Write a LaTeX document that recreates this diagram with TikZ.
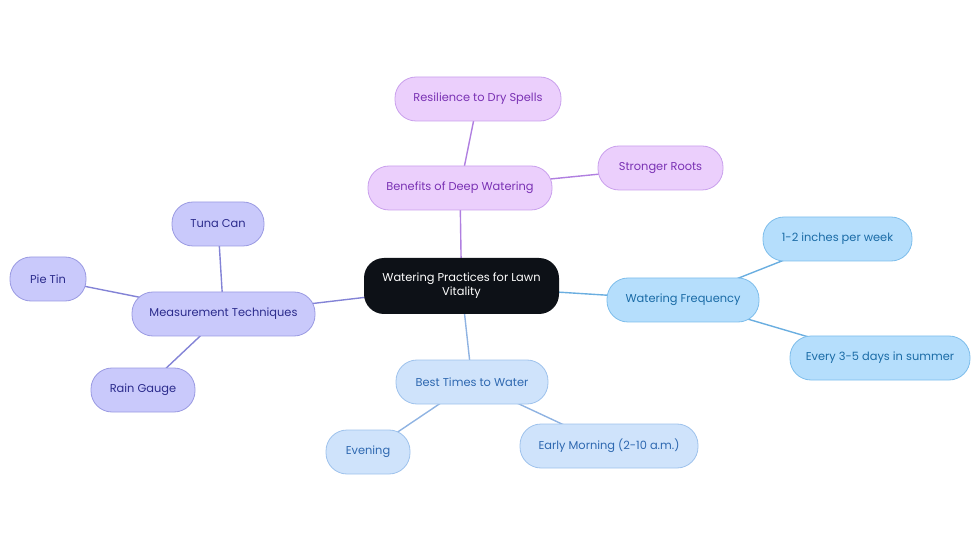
\documentclass[tikz,border=0pt]{standalone}
\usepackage{fontspec}
\setmainfont{Poppins}
\usetikzlibrary{backgrounds}
\definecolor{purpfill}{HTML}{EBCFFC}
\definecolor{purpdraw}{HTML}{C9A0EC}
\definecolor{purptext}{HTML}{7A32B4}
\definecolor{purpline}{HTML}{B07FE0}
\definecolor{bluefill}{HTML}{B5DEFC}
\definecolor{bluedraw}{HTML}{7DBDEB}
\definecolor{bluetext}{HTML}{1A6BA6}
\definecolor{blueline}{HTML}{6AAEE0}
\definecolor{ltfill}{HTML}{CFE3FB}
\definecolor{ltdraw}{HTML}{9EC2EC}
\definecolor{lttext}{HTML}{2E68B0}
\definecolor{ltline}{HTML}{8FB3E2}
\definecolor{indfill}{HTML}{C9C9FB}
\definecolor{inddraw}{HTML}{9A9AE2}
\definecolor{indtext}{HTML}{2B2B8C}
\definecolor{indline}{HTML}{8383D6}
\definecolor{darkfill}{HTML}{0D1117}
\tikzset{
  pill/.style={rectangle, rounded corners=21pt, minimum height=44pt, line width=0.8pt, font=\fontsize{11.4}{14}\selectfont, inner sep=0pt},
  purp/.style={pill, fill=purpfill, draw=purpdraw, text=purptext},
  blu/.style={pill, fill=bluefill, draw=bluedraw, text=bluetext},
  ltb/.style={pill, fill=ltfill, draw=ltdraw, text=lttext},
  ind/.style={pill, fill=indfill, draw=inddraw, text=indtext},
  edge/.style={line width=1.4pt},
}
\begin{document}
\begin{tikzpicture}[x=1pt,y=-1pt]
\useasboundingbox (0,0) rectangle (980,553);
\node[rectangle, rounded corners=20pt, minimum width=195pt, minimum height=56pt, fill=darkfill, text=white, align=center, font=\fontsize{11.4}{14}\selectfont, inner sep=0pt] (root) at (461.5,286) {Watering Practices for Lawn\\Vitality};
\node[purp, minimum width=184pt] (ben) at (460,188) {Benefits of Deep Watering};
\node[purp, minimum width=166pt] (res) at (478,99) {Resilience to Dry Spells};
\node[purp, minimum width=125pt] (str) at (660.5,168) {Stronger Roots};
\node[blu, minimum width=152pt] (freq) at (683,300) {Watering Frequency};
\node[blu, minimum width=149pt] (inch) at (837.5,239) {1-2 inches per week};
\node[blu, minimum width=180pt] (every) at (880,358) {Every 3-5 days in summer};
\node[ltb, minimum width=152pt] (best) at (472,382) {Best Times to Water};
\node[ltb, minimum width=84pt] (eve) at (368,452) {Evening};
\node[ltb, minimum width=178pt] (early) at (609,446) {Early Morning (2-10 a.m.)};
\node[ind, minimum width=183pt] (meas) at (223.5,314) {Measurement Techniques};
\node[ind, minimum width=92pt] (tuna) at (218,224) {Tuna Can};
\node[ind, minimum width=76pt] (pie) at (48,279) {Pie Tin};
\node[ind, minimum width=104pt] (rain) at (143,390) {Rain Gauge};
\begin{pgfonlayer}{background}
\draw[edge, purpline] (root.center) -- (ben.center);
\draw[edge, purpline] (ben.center) -- (res.center);
\draw[edge, purpline] (ben.center) -- (str.center);
\draw[edge, blueline] (root.center) -- (freq.center);
\draw[edge, blueline] (freq.center) -- (inch.center);
\draw[edge, blueline] (freq.center) -- (every.center);
\draw[edge, ltline] (root.center) -- (best.center);
\draw[edge, ltline] (best.center) -- (eve.center);
\draw[edge, ltline] (best.center) -- (early.center);
\draw[edge, indline] (root.center) -- (meas.center);
\draw[edge, indline] (meas.center) -- (tuna.center);
\draw[edge, indline] (meas.center) -- (pie.center);
\draw[edge, indline] (meas.center) -- (rain.center);
\end{pgfonlayer}
\end{tikzpicture}
\end{document}
